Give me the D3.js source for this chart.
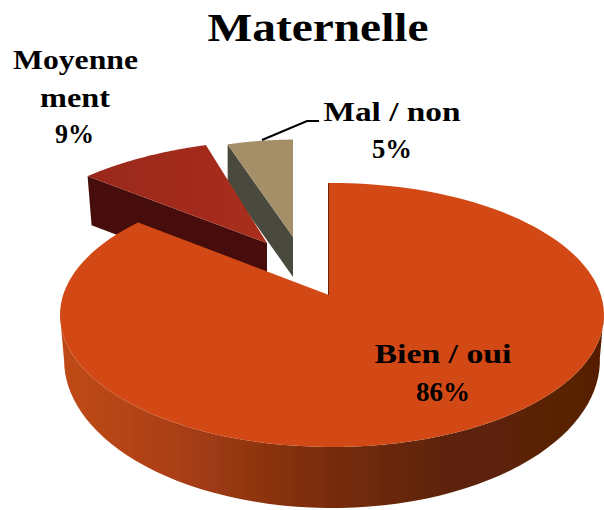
<!DOCTYPE html>
<html>
<head>
<meta charset="utf-8">
<script src="https://cdn.jsdelivr.net/npm/d3@7"></script>
<style>
html,body{margin:0;padding:0;background:#fff}
svg{display:block}
text{font-family:"Liberation Serif",serif;font-weight:700;fill:#000;text-anchor:middle}
</style>
</head>
<body>
<svg id="c" width="604" height="510"></svg>
<script>
// Data
const categories = ["Bien / oui", "Moyennement", "Mal / non"];
const values = [86, 9, 5];
const chartTitle = "Maternelle";

// Styles
const topColors = ["#d24914", "#a02b1c", "#a48f68"];
const wallColors = ["#6b2607", "#470f09", "#4a4a3c"];

// 3D layout: the pie's tilted ellipse, and where each exploded slice sits
const ellipse = {cx: 332, cy: 315, rx: 272, ry: 132};
const pivot = {x: 329, y: 295};
const tilt = 0.46;
const sliceLayout = [
  {x: 329, y: 295, scale: 1,    sx: 1,     shear: 0,      depth: 45},
  {x: 267, y: 243, scale: 0.92, sx: 1.073, shear: -0.134, depth: 49},
  {x: 293, y: 237, scale: 0.87, sx: 1,     shear: 0,      depth: 40}
];
const labelLayout = [
  {lines: [{t: "Bien / oui", x: 443, y: 363, w: 137}, {t: "86%", x: 443, y: 401, w: 54}]},
  {lines: [{t: "Moyenne", x: 75.5, y: 69, w: 125}, {t: "ment", x: 75, y: 107, w: 70}, {t: "9%", x: 74.5, y: 143, w: 39}]},
  {lines: [{t: "Mal / non", x: 392, y: 121, w: 137}, {t: "5%", x: 392, y: 158, w: 40}]}
];

const svg = d3.select("#c");
const defs = svg.append("defs");
const soft = defs.append("filter").attr("id", "soft");
soft.append("feGaussianBlur").attr("stdDeviation", 0.55);

const bandGrad = defs.append("linearGradient").attr("id", "band")
  .attr("gradientUnits", "userSpaceOnUse").attr("x1", 60).attr("x2", 604).attr("y1", 0).attr("y2", 0);
[[0, "#c04a17"], [0.2, "#ac4015"], [0.45, "#7e2e0d"], [0.7, "#5e2408"], [1, "#571f05"]]
  .forEach(([o, c]) => bandGrad.append("stop").attr("offset", o).attr("stop-color", c));

const redGrad = defs.append("linearGradient").attr("id", "redTop")
  .attr("gradientUnits", "userSpaceOnUse").attr("x1", 88).attr("x2", 267).attr("y1", 0).attr("y2", 0);
[[0, "#99281b"], [1, "#a92e1c"]]
  .forEach(([o, c]) => redGrad.append("stop").attr("offset", o).attr("stop-color", c));

// Ray from the pivot in pie direction `a`, clipped by the ellipse.
function rim(a) {
  const dx = Math.sin(a), dy = -Math.cos(a) * tilt;
  const ox = (pivot.x - ellipse.cx) / ellipse.rx, oy = (pivot.y - ellipse.cy) / ellipse.ry;
  const ux = dx / ellipse.rx, uy = dy / ellipse.ry;
  const A = ux * ux + uy * uy, B = 2 * (ox * ux + oy * uy), C = ox * ox + oy * oy - 1;
  const t = (-B + Math.sqrt(B * B - 4 * A * C)) / (2 * A);
  return [dx * t, dy * t];
}
const place = (a, s) => {
  const r = rim(a);
  const rx = r[0] * s.scale, ry = r[1] * s.scale;
  return [s.x + rx * s.sx + ry * s.shear, s.y + ry];
};
const lower = p => {
  const d = 45 + (p[1] - ellipse.cy) / ellipse.ry * 16;
  return [ellipse.cx + (p[0] - ellipse.cx) * 0.985, p[1] + d];
};

const arcs = d3.pie().sort(null).startAngle(0).endAngle(2 * Math.PI)(values);
const line = d3.line();
const rimPts = (d, s) => d3.range(0, 121).map(i => place(d.startAngle + (d.endAngle - d.startAngle) * i / 120, s));

const g = svg.append("g").attr("filter", "url(#soft)");

// Draw back-to-front: small slices first, then the large one.
[2, 1, 0].forEach(i => {
  const d = arcs[i], s = sliceLayout[i], pts = rimPts(d, s);
  const apex = [s.x, s.y];
  if (i === 0) {
    const iMax = d3.greatestIndex(pts, p => p[0]), iMin = d3.leastIndex(pts, p => p[0]);
    const front = pts.slice(iMax, iMin + 1);
    g.append("path").attr("d", line(front.concat(front.map(lower).reverse())) + "Z").attr("fill", "url(#band)");
    g.append("path").attr("d", line([pts[0], apex])).attr("stroke", wallColors[0]).attr("stroke-width", 2).attr("fill", "none");
  } else {
    const o = pts[0];
    const wall = [o, apex, [s.x, s.y + s.depth], [o[0] + (i === 1 ? 4 : 0), o[1] + s.depth]];
    g.append("path").attr("d", line(wall) + "Z").attr("fill", wallColors[i]);
  }
  g.append("path").attr("d", line(pts.concat([apex])) + "Z")
    .attr("fill", i === 1 ? "url(#redTop)" : topColors[i]);
});

// Leader line for the small slice
svg.append("path").attr("d", line([[262, 140], [307, 121], [319, 121]]))
  .attr("fill", "none").attr("stroke", "#000").attr("stroke-width", 2);

// Title
svg.append("text").attr("x", 318).attr("y", 41).attr("font-size", 41)
  .attr("textLength", 221).attr("lengthAdjust", "spacingAndGlyphs").text(chartTitle);

// Labels
labelLayout.forEach(l => {
  l.lines.forEach(n => {
    svg.append("text").attr("x", n.x).attr("y", n.y).attr("font-size", 27)
      .attr("textLength", n.w).attr("lengthAdjust", "spacingAndGlyphs").text(n.t);
  });
});
</script>
</body>
</html>
